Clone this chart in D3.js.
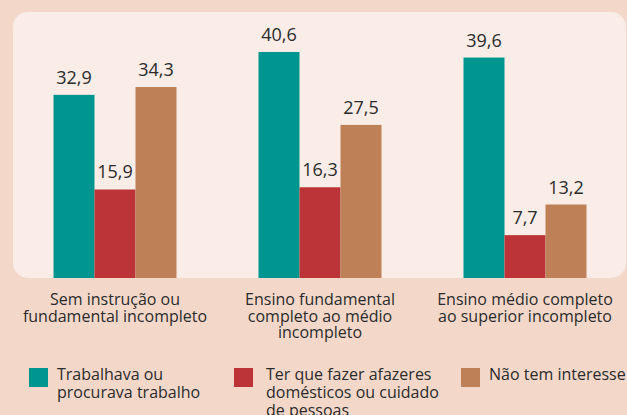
<!DOCTYPE html>
<html>
<head>
<meta charset="utf-8">
<script src="https://cdn.jsdelivr.net/npm/d3@7"></script>
<style>
  html, body { margin: 0; padding: 0; background: #F3D8CA; overflow: hidden; }
  svg { display: block; }
  text { font-family: "Open Sans", sans-serif; fill: #2b2b2b; }
</style>
</head>
<body>
<svg id="chart" width="627" height="415"></svg>
<script>
// ---- Data ----
const categories = [
  "Sem instrução ou\nfundamental incompleto",
  "Ensino fundamental\ncompleto ao médio\nincompleto",
  "Ensino médio completo\nao superior incompleto"
];
const seriesNames = [
  "Trabalhava ou\nprocurava trabalho",
  "Ter que fazer afazeres\ndomésticos ou cuidado\nde pessoas",
  "Não tem interesse"
];
const trabalhava = [32.9, 40.6, 39.6];
const afazeres = [15.9, 16.3, 7.7];
const semInteresse = [34.3, 27.5, 13.2];
const seriesValues = [trabalhava, afazeres, semInteresse];
const colors = ["#00958E", "#BC3437", "#BE8056"];

// ---- Layout ----
const W = 627, H = 415;
const svg = d3.select("#chart");
const baseY = 278;

svg.append("rect")
  .attr("x", 0).attr("y", 0).attr("width", W).attr("height", H)
  .attr("fill", "#F3D8CA");

svg.append("rect")
  .attr("x", 13).attr("y", 12).attr("width", 613).attr("height", baseY - 12)
  .attr("rx", 15).attr("ry", 15)
  .attr("fill", "#FAECE7");

const x0 = d3.scaleBand().domain(categories).range([12.5, 627.5])
  .paddingInner(0.4).paddingOuter(0.2);
const x1 = d3.scaleBand().domain(d3.range(seriesNames.length)).range([0, x0.bandwidth()]);
const y = d3.scaleLinear().domain([0, 45]).range([baseY, baseY - 45 * 5.567]);

const fmt = v => d3.format(".1f")(v).replace(".", ",");

const groups = svg.selectAll("g.grp").data(categories).join("g")
  .attr("class", "grp")
  .attr("transform", d => `translate(${x0(d)},0)`);

groups.each(function(cat, ci) {
  const g = d3.select(this);
  const data = seriesValues.map((arr, si) => ({ si, v: arr[ci] }));
  g.selectAll("rect").data(data).join("rect")
    .attr("x", d => x1(d.si))
    .attr("y", d => y(d.v))
    .attr("width", x1.bandwidth())
    .attr("height", d => baseY - y(d.v))
    .attr("fill", d => colors[d.si]);
  g.selectAll("text.val").data(data).join("text")
    .attr("class", "val")
    .attr("x", d => x1(d.si) + x1.bandwidth() / 2)
    .attr("y", d => y(d.v) - 11)
    .attr("text-anchor", "middle")
    .attr("font-size", 18)
    .text(d => fmt(d.v));
});

// Category labels
svg.selectAll("text.cat").data(categories).join("text")
  .attr("class", "cat")
  .attr("text-anchor", "middle")
  .attr("font-size", 16)
  .attr("y", 305)
  .each(function(d) {
    const t = d3.select(this);
    const cx = x0(d) + x0.bandwidth() / 2;
    d.split("\n").forEach((line, i) => {
      t.append("tspan").attr("x", cx).attr("dy", i === 0 ? 0 : 16.5).text(line);
    });
  });

// Legend
const legendX = [29, 234, 461];
const legend = svg.selectAll("g.leg").data(seriesNames).join("g")
  .attr("class", "leg")
  .attr("transform", (d, i) => `translate(${legendX[i]},368)`);
legend.append("rect")
  .attr("width", 19).attr("height", 19)
  .attr("fill", (d, i) => colors[i]);
legend.append("text")
  .attr("font-size", 16)
  .attr("y", 12)
  .each(function(d, i) {
    const t = d3.select(this);
    const tx = i === 1 ? 32 : 28;
    d.split("\n").forEach((line, j) => {
      t.append("tspan").attr("x", tx).attr("dy", j === 0 ? 0 : 18).text(line);
    });
  });
</script>
</body>
</html>
